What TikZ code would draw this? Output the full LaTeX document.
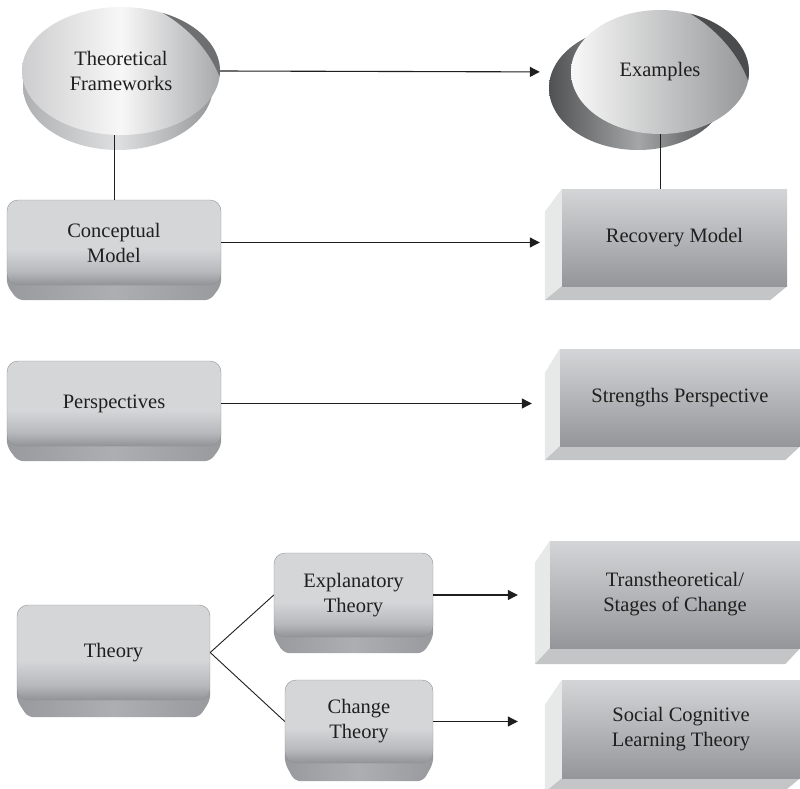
\documentclass[tikz,border=0pt]{standalone}
\usepackage{fontspec}
\setmainfont{Liberation Serif}
\usetikzlibrary{arrows.meta,calc,shapes.geometric,backgrounds}
\definecolor{bxlight}{RGB}{213,214,216}
\definecolor{bxmid}{RGB}{184,185,188}
\definecolor{bxdark}{RGB}{145,147,150}
\definecolor{bevmid}{RGB}{172,174,177}
\definecolor{bevdark}{RGB}{152,154,157}
\definecolor{frtop}{RGB}{212,213,215}
\definecolor{frbot}{RGB}{148,150,153}
\definecolor{sidef}{RGB}{231,232,232}
\definecolor{botf}{RGB}{196,197,199}
\definecolor{tfl}{RGB}{205,205,207}
\definecolor{tfr}{RGB}{168,169,171}
\definecolor{tfrimL}{RGB}{175,176,178}
\definecolor{tfrimM}{RGB}{222,223,225}
\definecolor{tfrimR}{RGB}{150,151,153}
\definecolor{tfdark}{RGB}{110,111,113}
\definecolor{exfl}{RGB}{248,248,248}
\definecolor{exfr}{RGB}{150,151,153}
\definecolor{exrimL}{RGB}{80,81,83}
\definecolor{exrimM}{RGB}{165,166,168}
\definecolor{exrimR}{RGB}{70,71,73}
\definecolor{exdark}{RGB}{75,76,78}
\definecolor{linec}{RGB}{30,30,30}
\pgfdeclareverticalshading{lboxface}{100bp}{color(0bp)=(bxdark); color(25bp)=(bxdark); color(33bp)=(bxmid); color(46bp)=(bxlight); color(100bp)=(bxlight)}
\tikzset{
  lbl/.style={font=\fontsize{20.5}{25}\selectfont, text=black!88, align=center, inner sep=0pt},
  lbox/.style={lbl, rectangle, rounded corners=11pt, shade, shading=lboxface, draw=bxdark, line width=0.4pt},
  rbox/.style={lbl, rectangle, top color=frtop, bottom color=frbot},
  bevelf/.style={left color=bevdark, right color=bevdark, middle color=bevmid, rounded corners=6pt},
  sidefill/.style={fill=sidef},
  botfill/.style={fill=botf},
  arr/.style={draw=linec, line width=1.1pt, -{Triangle[length=10pt,width=10pt]}},
  conn/.style={draw=linec, line width=0.9pt},
}
\newcommand\mybevel[3]{%
  \shade[bevelf] ($(#1.south west)+(0,-14)$) -- (#1.south west) -- ($(#1.south west)+(#3,#2)$) -- ($(#1.south east)+(-#3,#2)$) -- (#1.south east) -- ($(#1.south east)+(0,-14)$) -- cycle;}
\newcommand\mybox[4]{%
  \fill[sidefill] (#1.north west) -- ($(#1.north west)+(-#2,#3)$) -- ($(#1.south west)+(-#2,#4)$) -- (#1.south west) -- cycle;
  \fill[botfill] (#1.south west) -- ($(#1.south west)+(-#2,#4)$) -- ($(#1.south east)+(-#2,#4)$) -- (#1.south east) -- cycle;}
\begin{document}
\begin{tikzpicture}[x=1pt,y=-1pt]
\useasboundingbox (0,0) rectangle (800,789);
% discs
\node[lbl, ellipse, minimum width=198pt, minimum height=128pt, left color=tfl, right color=tfr, middle color=white!97!black] (tf) at (121,71) {Theoretical\\Frameworks};
\fill[tfdark] (162.8,13) arc[start angle=-65, end angle=5, x radius=99, y radius=64] .. controls (205,40) and (175,20) .. (162.8,13) -- cycle;
\node[lbl, ellipse, minimum width=178pt, minimum height=124pt, left color=exfl, right color=exfr] (ex) at (660,72) {Examples};
\fill[exdark] (690.4,13.7) arc[start angle=-70, end angle=8, x radius=89, y radius=62] .. controls (735,45) and (705,22) .. (690.4,13.7) -- cycle;
% left boxes
\node[lbox, minimum width=214pt, minimum height=85pt] (cm) at (114,242.5) {Conceptual\\Model};
\node[lbox, minimum width=214pt, minimum height=85pt] (pp) at (114,403.5) {Perspectives};
\node[lbox, minimum width=193pt, minimum height=95pt] (th) at (113.5,652.5) {Theory};
\node[lbox, minimum width=159pt, minimum height=84pt] (et) at (353.5,595) {Explanatory\\Theory};
\node[lbox, minimum width=148pt, minimum height=83pt] (ct) at (359,721.5) {Change\\Theory};
% right boxes
\node[rbox, minimum width=225pt, minimum height=97pt] (rm) at (674.5,237.5) {Recovery Model};
\node[rbox, minimum width=240pt, minimum height=97pt] (sp) at (680,397.5) {Strengths Perspective};
\node[rbox, minimum width=250pt, minimum height=107pt] (ts) at (675,594.5) {Transtheoretical/\\Stages of Change};
\node[rbox, minimum width=238pt, minimum height=98pt] (sc) at (681,729) {Social Cognitive\\Learning Theory};
\begin{pgfonlayer}{background}
\shade[left color=tfrimL, right color=tfrimR, middle color=tfrimM] (118,86) ellipse [x radius=95, y radius=64];
\shade[left color=exrimL, right color=exrimR, middle color=exrimM] (638,88) ellipse [x radius=89, y radius=62];
\mybevel{cm}{15}{11}
\mybevel{pp}{15}{11}
\mybevel{th}{17}{11}
\mybevel{et}{16}{10}
\mybevel{ct}{18}{10}
\mybox{rm}{17}{23}{14}
\mybox{sp}{15}{24}{14}
\mybox{ts}{15}{22}{16}
\mybox{sc}{17}{25}{14}
\end{pgfonlayer}
% connectors
\draw[conn] (cm.north) -- (cm.north |- tf.south);
\draw[conn] (rm.north -| ex.south) -- (ex.south);
\draw[conn] (th.east) -- (et.west);
\draw[conn] (th.east) -- (ct.west);
\draw[arr, shorten >=31pt] (tf.east) -- (ex.west);
\draw[arr, shorten >=22pt] (cm.east) -- (cm.east -| rm.west);
\draw[arr, shorten >=28pt] (pp.east) -- (pp.east -| sp.west);
\draw[arr, shorten >=32pt] (et.east) -- (et.east -| ts.west);
\draw[arr, shorten >=44pt] (ct.east) -- (ct.east -| sc.west);
\end{tikzpicture}
\end{document}
